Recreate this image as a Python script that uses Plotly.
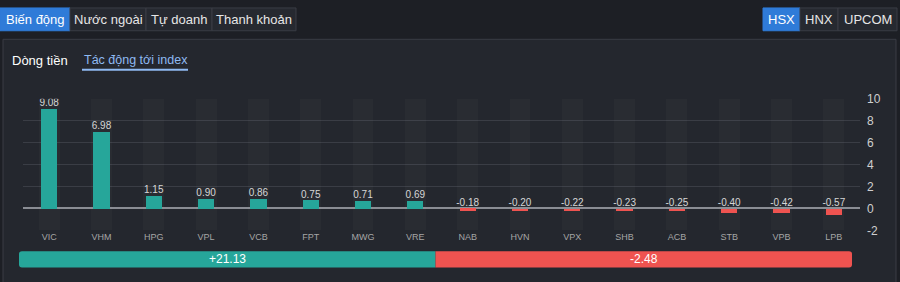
import plotly.graph_objects as go

W, H = 900, 282

# ---- data ----
tickers = ["VIC", "VHM", "HPG", "VPL", "VCB", "FPT", "MWG", "VRE",
           "NAB", "HVN", "VPX", "SHB", "ACB", "STB", "VPB", "LPB"]
impact = [9.08, 6.98, 1.15, 0.90, 0.86, 0.75, 0.71, 0.69,
          -0.18, -0.20, -0.22, -0.23, -0.25, -0.40, -0.42, -0.57]
y_ticks = [-2, 0, 2, 4, 6, 8, 10]
total_up = "+21.13"
total_down = "-2.48"
main_tabs = ["Biến động", "Nước ngoài", "Tự doanh", "Thanh khoản"]
exchange_tabs = ["HSX", "HNX", "UPCOM"]
sub_tabs = ["Dòng tiền", "Tác động tới index"]

# ---- style ----
UP = "#26a69a"
DOWN = "#ef5350"
BLUE = "#2f7bd8"
OUTER_BG = "#1d1f25"
PANEL_BG = "#24272e"
BORDER = "#3a3d45"
FONT = "Liberation Sans, Arial, sans-serif"


def fx(px):
    return px / W


def fy(py):
    return 1 - py / H


y_min, y_max = y_ticks[0], y_ticks[-1]
bar_colors = [UP if v >= 0 else DOWN for v in impact]

fig = go.Figure()
# background bands behind each category
fig.add_trace(go.Bar(x=tickers, y=[y_max - y_min] * len(tickers), base=y_min,
                     width=0.40, marker=dict(color="rgba(255,255,255,0.022)", line_width=0),
                     hoverinfo="skip", showlegend=False))
fig.add_trace(go.Bar(x=tickers, y=impact, width=0.31,
                     marker=dict(color=bar_colors, line_width=0), showlegend=False))
fig.add_trace(go.Scatter(x=tickers, y=[max(v, 0) for v in impact], mode="text",
                         text=[f"{v:.2f}" for v in impact], textposition="top center",
                         textfont=dict(size=10, color="#d6d6d6", family=FONT),
                         showlegend=False, hoverinfo="skip"))

shapes = []
annotations = []

# outer panel
shapes.append(dict(type="rect", xref="paper", yref="paper", x0=fx(3), x1=fx(896),
                   y0=fy(290), y1=fy(34), fillcolor=PANEL_BG,
                   line=dict(color=BORDER, width=1), layer="below"))


def tab(x0, x1, label, active, y0=1, y1=25, size=13):
    shapes.append(dict(type="rect", xref="paper", yref="paper", x0=fx(x0), x1=fx(x1),
                       y0=fy(y1), y1=fy(y0), fillcolor=BLUE if active else "#262930",
                       line=dict(color=BLUE if active else BORDER, width=1), layer="below"))
    annotations.append(dict(xref="paper", yref="paper", x=fx((x0 + x1) / 2), y=fy((y0 + y1) / 2),
                            text=label, showarrow=False, xanchor="center", yanchor="middle",
                            font=dict(size=size, color="#ffffff" if active else "#e6e6e6", family=FONT)))


main_edges = [0, 70, 146, 212, 296]
for i, lab in enumerate(main_tabs):
    tab(main_edges[i], main_edges[i + 1], lab, i == 0)
ex_edges = [763, 800, 838, 897]
for i, lab in enumerate(exchange_tabs):
    tab(ex_edges[i], ex_edges[i + 1], lab, i == 0)

# sub tabs
annotations.append(dict(xref="paper", yref="paper", x=fx(10), y=fy(56), text=sub_tabs[0],
                        showarrow=False, xanchor="left", yanchor="middle",
                        font=dict(size=13, color="#ffffff", family=FONT)))
annotations.append(dict(xref="paper", yref="paper", x=fx(82), y=fy(56), text=sub_tabs[1],
                        showarrow=False, xanchor="left", yanchor="middle",
                        font=dict(size=12.5, color="#8fbaf2", family=FONT)))
shapes.append(dict(type="line", xref="paper", yref="paper", x0=fx(82), x1=fx(188),
                   y0=fy(66), y1=fy(66), line=dict(color="#8fbaf2", width=2)))

# summary bar split by count of rising / falling stocks
n_up = sum(1 for v in impact if v >= 0)
frac = n_up / len(impact)
bx0, bx1, by0, by1 = 19, 852, 257, 274
split = bx0 + (bx1 - bx0) * frac


def rounded(x0, x1, y0, y1, r, color, left=True, right=True):
    X0, X1, Y0, Y1 = fx(x0), fx(x1), fy(y1), fy(y0)
    rx, ry = r / W, r / H
    p = []
    if left:
        p.append(f"M {X0+rx},{Y1}")
    else:
        p.append(f"M {X0},{Y1}")
    if right:
        p.append(f"L {X1-rx},{Y1} Q {X1},{Y1} {X1},{Y1-ry} L {X1},{Y0+ry} Q {X1},{Y0} {X1-rx},{Y0}")
    else:
        p.append(f"L {X1},{Y1} L {X1},{Y0}")
    if left:
        p.append(f"L {X0+rx},{Y0} Q {X0},{Y0} {X0},{Y0+ry} L {X0},{Y1-ry} Q {X0},{Y1} {X0+rx},{Y1} Z")
    else:
        p.append(f"L {X0},{Y0} Z")
    shapes.append(dict(type="path", xref="paper", yref="paper", path=" ".join(p),
                       fillcolor=color, line=dict(width=0)))


rounded(bx0, split, by0, by1, 3, UP, left=True, right=False)
rounded(split, bx1, by0, by1, 3, DOWN, left=False, right=True)
annotations.append(dict(xref="paper", yref="paper", x=fx((bx0 + split) / 2), y=fy((by0 + by1) / 2),
                        text=total_up, showarrow=False, xanchor="center", yanchor="middle",
                        font=dict(size=12, color="#ffffff", family=FONT)))
annotations.append(dict(xref="paper", yref="paper", x=fx((split + bx1) / 2), y=fy((by0 + by1) / 2),
                        text=total_down, showarrow=False, xanchor="center", yanchor="middle",
                        font=dict(size=12, color="#ffffff", family=FONT)))

fig.update_layout(
    width=W, height=H, margin=dict(l=0, r=0, t=0, b=0),
    paper_bgcolor=OUTER_BG, plot_bgcolor="rgba(0,0,0,0)",
    barmode="overlay", bargap=0, showlegend=False,
    font=dict(family=FONT),
    shapes=shapes, annotations=annotations,
    xaxis=dict(domain=[fx(23), fx(860)], showgrid=False, zeroline=False, showline=False,
               ticks="", tickfont=dict(size=9, color="#a5a5a5", family=FONT),
               fixedrange=True, range=[-0.5, len(tickers) - 0.5]),
    yaxis=dict(domain=[fy(235), fy(96.5)], range=[y_min, y_max], side="right",
               tickvals=y_ticks, ticktext=[str(t) for t in y_ticks],
               showgrid=True, gridcolor="#3a3d45", gridwidth=1,
               zeroline=True, zerolinecolor="#8a8d94", zerolinewidth=1.5,
               showline=False, ticks="", ticklabelstandoff=6,
               tickfont=dict(size=12, color="#cfcfcf", family=FONT), fixedrange=True),
)

fig.write_html("out.html")
